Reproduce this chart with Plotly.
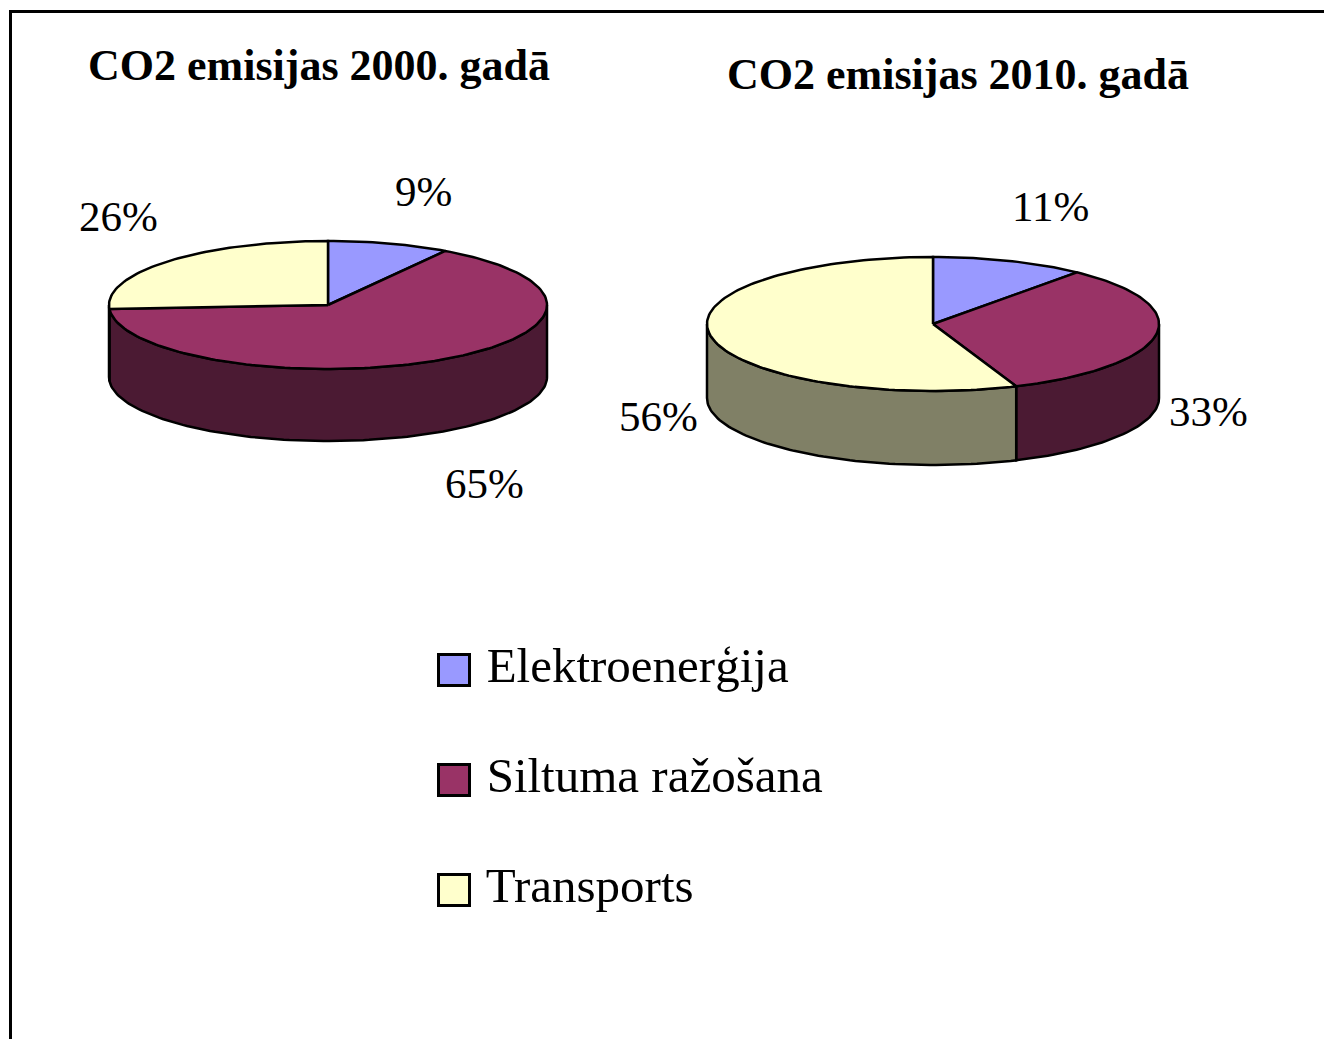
import math
import plotly.graph_objects as go

# ---- data ----
categories = ["Elektroenerģija", "Siltuma ražošana", "Transports"]
values_2000 = [9, 65, 26]
values_2010 = [11, 33, 56]
titles = ["CO2 emisijas 2000. gadā", "CO2 emisijas 2010. gadā"]

# ---- styles ----
top_colors = ["#9999FF", "#993366", "#FFFFCC"]
side_colors = ["#4D4D80", "#4B1A33", "#808066"]
FONT = "Liberation Serif"
W, H = 1332, 1039
OFF = 8  # page body margin

# pie geometry (pixel layout): cx, cy, rx, ry, depth
pies = [
    dict(values=values_2000, cx=328, cy=305, rx=219, ry=64, depth=72,
         title_pos=(319, 65),
         label_pos=[(423, 191), (484, 483), (118, 216)]),
    dict(values=values_2010, cx=933, cy=324, rx=226, ry=67, depth=74,
         title_pos=(958, 74),
         label_pos=[(1050, 206), (1208, 411), (658, 416)]),
]

def pt(p, ang, dy=0.0):
    r = math.radians(ang)
    return p["cx"] + p["rx"] * math.sin(r), p["cy"] - p["ry"] * math.cos(r) + dy

def arc(p, a0, a1, dy=0.0, n=None):
    if n is None:
        n = max(2, int(abs(a1 - a0) / 1.5) + 2)
    xs, ys = [], []
    for i in range(n):
        a = a0 + (a1 - a0) * i / (n - 1)
        x, y = pt(p, a, dy)
        xs.append(x); ys.append(y)
    return xs, ys

fig = go.Figure()
line = dict(color="black", width=2.5)

for p in pies:
    total = sum(p["values"])
    bounds = []
    acc = 0.0
    for v in p["values"]:
        a0 = acc / total * 360
        acc += v
        a1 = acc / total * 360
        bounds.append((a0, a1))
    # side walls (front half only: 90..270 deg clockwise from top)
    for i, (a0, a1) in enumerate(bounds):
        s0, s1 = max(a0, 90), min(a1, 270)
        if s1 <= s0:
            continue
        tx, ty = arc(p, s0, s1)
        bx, by = arc(p, s1, s0, dy=p["depth"])
        fig.add_trace(go.Scatter(
            x=tx + bx + [tx[0]], y=ty + by + [ty[0]], mode="lines",
            fill="toself", fillcolor=side_colors[i], line=line,
            hoverinfo="skip", showlegend=False))
    # top faces
    for i, (a0, a1) in enumerate(bounds):
        ax, ay = arc(p, a0, a1)
        xs = [p["cx"]] + ax + [p["cx"]]
        ys = [p["cy"]] + ay + [p["cy"]]
        fig.add_trace(go.Scatter(
            x=xs, y=ys, mode="lines", fill="toself",
            fillcolor=top_colors[i], line=line,
            hoverinfo="skip", showlegend=False))
    # percentage labels
    for i, v in enumerate(p["values"]):
        lx, ly = p["label_pos"][i]
        fig.add_annotation(x=lx, y=ly, text=f"{v}%", showarrow=False,
                           font=dict(family=FONT, size=43, color="black"),
                           xanchor="center", yanchor="middle")

# titles
for p, t in zip(pies, titles):
    tx, ty = p["title_pos"]
    fig.add_annotation(x=tx, y=ty, text=f"<b>{t}</b>", showarrow=False,
                       font=dict(family=FONT, size=44, color="black"),
                       xanchor="center", yanchor="middle")

# legend (drawn as markers with text)
leg_x = 454
leg_y = [670, 780, 890]
fig.add_trace(go.Scatter(
    x=[leg_x] * len(categories), y=leg_y, mode="markers+text",
    marker=dict(symbol="square", size=31, color=top_colors,
                line=dict(color="black", width=3)),
    text=[" " + c for c in categories], textposition="middle right",
    textfont=dict(family=FONT, size=49, color="black"),
    hoverinfo="skip", showlegend=False))

# frame lines
fig.add_shape(type="line", xref="x", yref="y", x0=10, y0=11.5, x1=W, y1=11.5,
              line=dict(color="black", width=3))
fig.add_shape(type="line", xref="x", yref="y", x0=10.5, y0=10, x1=10.5, y1=H,
              line=dict(color="black", width=3))

fig.update_layout(
    width=W - OFF, height=H - OFF, margin=dict(l=0, r=0, t=0, b=0),
    paper_bgcolor="white", plot_bgcolor="white", showlegend=False,
    xaxis=dict(range=[OFF, W], visible=False, fixedrange=True),
    yaxis=dict(range=[H, OFF], visible=False, fixedrange=True),
)

fig.write_html("out.html")
